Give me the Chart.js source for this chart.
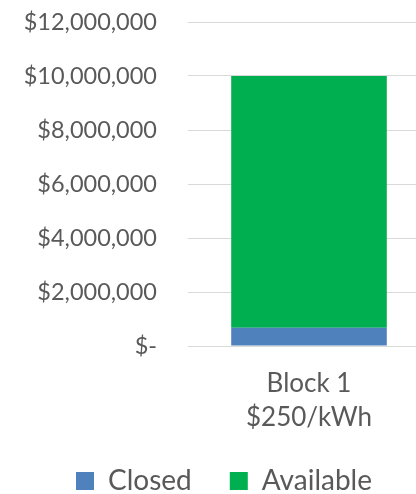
<!DOCTYPE html>
<html>
<head>
<meta charset="utf-8">
<script src="https://cdn.jsdelivr.net/npm/chart.js@4.4.0/dist/chart.umd.min.js"></script>
<style>
  html, body { margin: 0; padding: 0; background: #fff; overflow: hidden; }
  #wrap { width: 430px; height: 494px; }
</style>
</head>
<body>
<div id="wrap"><canvas id="chart" width="430" height="494"></canvas></div>
<script>
const categories = [['Block 1', '$250/kWh']]
const closedValues = [680000]
const availableValues = [9320000]
const yTicks = [0, 2000000, 4000000, 6000000, 8000000, 10000000, 12000000]

const textColor = '#595959'
const fontFamily = 'Lato, "Liberation Sans", sans-serif'

function money(v) {
  if (v === 0) return '$-'
  return '$' + v.toLocaleString('en-US')
}

new Chart(document.getElementById('chart'), {
  type: 'bar',
  data: {
    labels: categories,
    datasets: [
      {
        label: 'Closed',
        data: closedValues,
        backgroundColor: '#4f81bd',
        categoryPercentage: 1,
        barPercentage: 0.643
      },
      {
        label: 'Available',
        data: availableValues,
        backgroundColor: '#00b050',
        categoryPercentage: 1,
        barPercentage: 0.643
      }
    ]
  },
  options: {
    responsive: false,
    animation: false,
    layout: { padding: { top: 22, left: 18, right: 0, bottom: -11 } },
    scales: {
      x: {
        stacked: true,
        grid: { display: false, drawTicks: false },
        border: { display: false },
        afterFit: axis => { axis.height = 83 },
        ticks: {
          color: textColor,
          font: { family: fontFamily, size: 26, lineHeight: 1.3 },
          padding: 21
        }
      },
      y: {
        stacked: true,
        min: 0,
        max: 12000000,
        afterBuildTicks: axis => { axis.ticks = yTicks.map(v => ({ value: v })) },
        afterFit: axis => { axis.width = 170 },
        // invisible tick marks give the gap between labels and plot
        grid: { color: '#d9d9d9', lineWidth: 1, drawTicks: true, tickLength: 31, tickColor: 'rgba(0,0,0,0)' },
        border: { display: true, color: '#d9d9d9', width: 0 },
        ticks: {
          color: textColor,
          font: { family: fontFamily, size: 23.5 },
          padding: 0,
          callback: v => money(v)
        }
      }
    },
    plugins: {
      legend: {
        position: 'bottom',
        labels: {
          color: textColor,
          font: { family: fontFamily, size: 28 },
          boxWidth: 18,
          boxHeight: 18,
          padding: 38
        }
      },
      tooltip: { enabled: false }
    }
  }
})
</script>
</body>
</html>
